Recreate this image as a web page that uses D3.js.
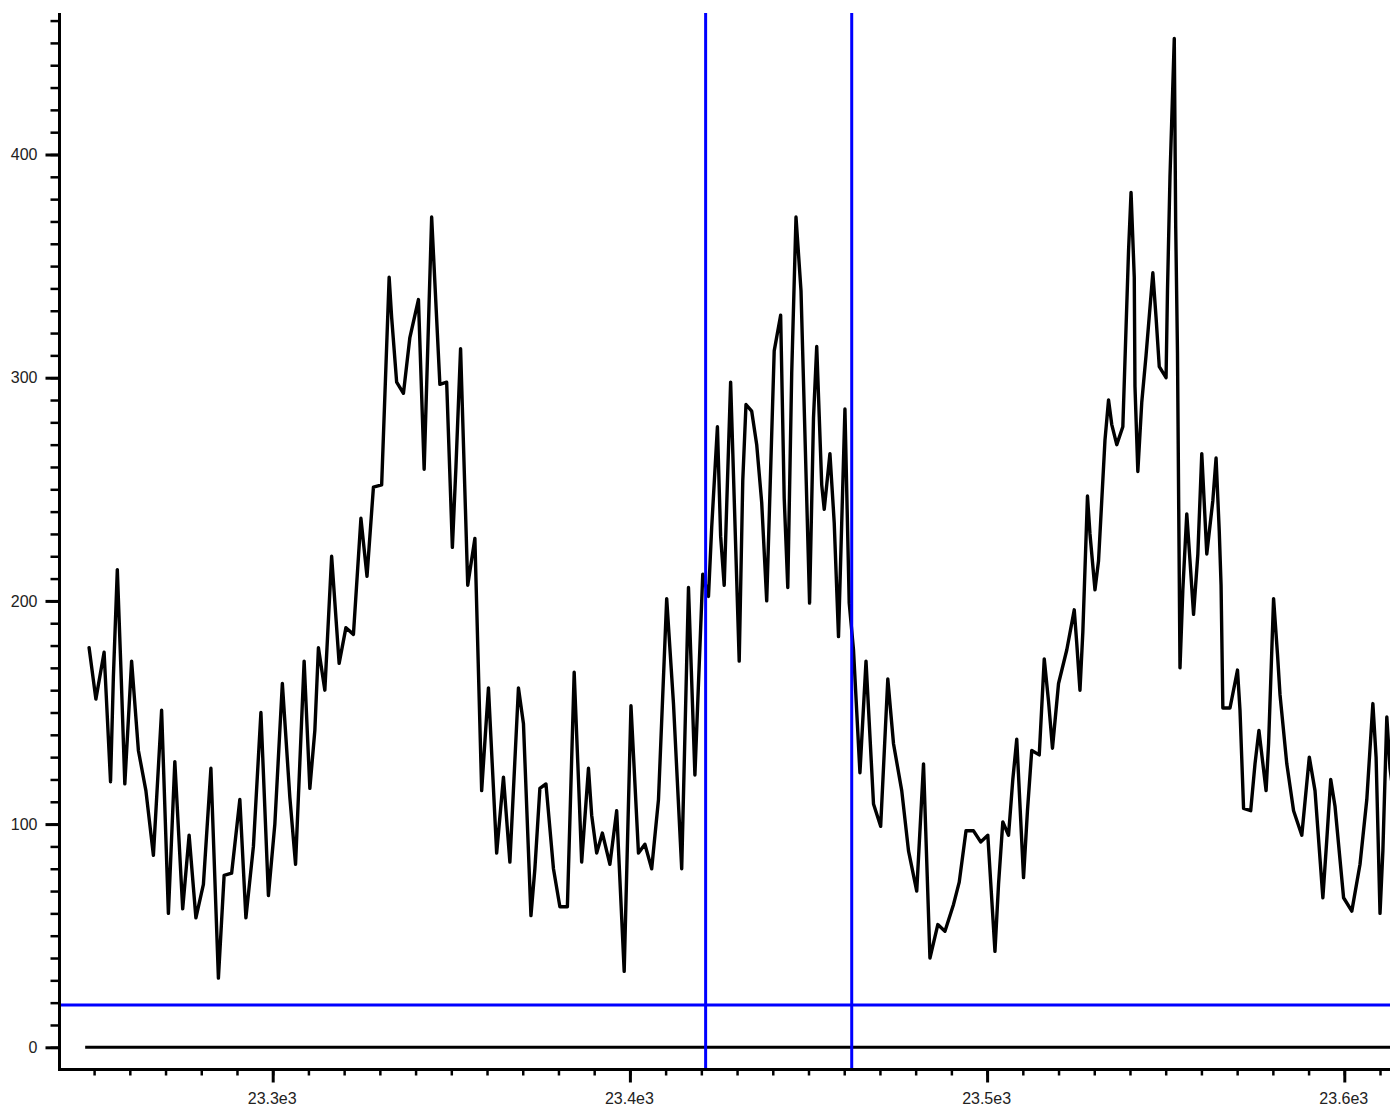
<!DOCTYPE html>
<html>
<head>
<meta charset="utf-8">
<script src="https://cdn.jsdelivr.net/npm/d3@7"></script>
<style>
  html, body { margin: 0; padding: 0; background: #fff; }
  svg { display: block; }
</style>
</head>
<body>
<svg id="chart" width="1390" height="1106"></svg>
<script>
// Signal samples: position (x) and intensity (y)
const xs = [
  23248.6, 23250.5, 23252.8, 23254.6, 23255.4, 23256.5, 23257.5, 23258.6, 23260.5, 23262.4,
  23264.5, 23266.6, 23268.9, 23270.8, 23272.6, 23274.8, 23276.6, 23278.5, 23280.6, 23282.7,
  23284.8, 23286.4, 23288.5, 23290.8, 23292.5, 23294.6, 23296.7, 23298.8, 23300.6, 23302.7,
  23304.8, 23306.4, 23307.4, 23308.8, 23310.4, 23311.8, 23312.8, 23314.6, 23316.5, 23318.6,
  23320.5, 23322.6, 23324.7, 23326.4, 23328.2, 23330.5, 23332.6, 23333.3, 23334.7, 23336.6,
  23338.4, 23340.8, 23342.4, 23344.5, 23346.8, 23348.7, 23350.3, 23351.3, 23352.6, 23354.6,
  23356.6, 23358.5, 23360.4, 23362.7, 23364.6, 23366.4, 23368.8, 23370.2, 23372.3, 23373.4,
  23374.8, 23376.5, 23378.6, 23380.4, 23382.5, 23384.4, 23385.6, 23386.5, 23388.4, 23389.3,
  23390.7, 23392.3, 23394.4, 23396.3, 23398.4, 23400.3, 23402.4, 23404.2, 23406.1, 23408.0,
  23410.3, 23412.2, 23414.5, 23416.4, 23418.2, 23420.4, 23422.0, 23422.9, 23424.5, 23425.4,
  23426.4, 23427.3, 23428.2, 23430.6, 23431.6, 23432.5, 23434.1, 23435.5, 23436.9, 23438.3,
  23440.4, 23442.2, 23443.2, 23444.2, 23445.3, 23446.5, 23447.9, 23450.3, 23451.4, 23452.3,
  23453.7, 23454.4, 23456.0, 23457.2, 23458.4, 23459.3, 23460.2, 23461.4, 23462.6, 23464.4,
  23466.1, 23468.2, 23470.2, 23472.2, 23473.8, 23476.1, 23478.0, 23480.3, 23482.2, 23484.0,
  23486.2, 23488.2, 23490.6, 23492.2, 23494.1, 23496.2, 23498.2, 23500.2, 23502.2, 23503.2,
  23504.4, 23506.0, 23507.2, 23508.3, 23510.2, 23511.3, 23512.5, 23514.6, 23516.0, 23517.2,
  23518.3, 23520.0, 23522.3, 23524.4, 23525.1, 23526.0, 23526.8, 23528.1, 23528.8, 23530.2,
  23531.2, 23533.0, 23534.0, 23534.9, 23536.3, 23538.0, 23539.6, 23540.3, 23541.2, 23541.4,
  23542.2, 23543.3, 23544.5, 23546.4, 23547.3, 23548.2, 23550.1, 23550.5, 23551.2, 23552.4,
  23552.8, 23553.3, 23554.0, 23554.8, 23555.9, 23556.8, 23557.8, 23559.0, 23560.1, 23561.5,
  23563.2, 23564.1, 23565.0, 23565.5, 23566.0, 23568.0, 23570.1, 23570.8, 23571.8, 23573.8,
  23575.0, 23576.1, 23578.1, 23578.8, 23580.2, 23581.3, 23582.0, 23583.9, 23585.8, 23588.1,
  23590.2, 23591.8, 23594.0, 23595.1, 23596.2, 23597.4, 23599.8, 23602.1, 23604.4, 23606.3,
  23608.0, 23608.9, 23610.0, 23610.8, 23611.9, 23612.8, 23614.0
];
const ys = [
  179, 156, 177, 119, 166, 214, 170, 118, 173, 133,
  115, 86, 151, 60, 128, 62, 95, 58, 73, 125,
  31, 77, 78, 111, 58, 90, 150, 68, 100, 163,
  112, 82, 120, 173, 116, 142, 179, 160, 220, 172,
  188, 185, 237, 211, 251, 252, 345, 327, 298, 293,
  318, 335, 259, 372, 297, 298, 224, 260, 313, 207,
  228, 115, 161, 87, 121, 83, 161, 145, 59, 80,
  116, 118, 80, 63, 63, 168, 120, 83, 125, 104,
  87, 96, 82, 106, 34, 153, 87, 91, 80, 111,
  201, 154, 80, 206, 122, 212, 202, 233, 278, 229,
  207, 253, 298, 173, 254, 288, 285, 270, 244, 200,
  312, 328, 246, 206, 302, 372, 339, 199, 282, 314,
  252, 241, 266, 235, 184, 235, 286, 199, 178, 123,
  173, 109, 99, 165, 136, 115, 88, 70, 127, 40,
  55, 52, 64, 74, 97, 97, 92, 95, 43, 73,
  101, 95, 120, 138, 76, 106, 133, 131, 174, 155,
  134, 163, 178, 196, 181, 160, 186, 247, 230, 205,
  218, 272, 290, 279, 270, 278, 357, 383, 345, 296,
  258, 289, 310, 347, 327, 305, 300, 339, 390, 452,
  368, 311, 170, 205, 239, 218, 194, 221, 266, 221,
  245, 264, 231, 207, 152, 152, 169, 151, 107, 106,
  127, 142, 115, 136, 201, 176, 158, 127, 106, 95,
  130, 115, 67, 93, 120, 108, 67, 61, 82, 111,
  154, 130, 60, 88, 148, 125, 110
];

// Axis ticks: minor every 10 units, labelled every 100
const xMinorTicks = d3.range(23250, 23611, 10);
const xMajorTicks = [23300, 23400, 23500, 23600];
const xTickLabels = ["23.3e3", "23.4e3", "23.5e3", "23.6e3"];
const yMinorTicks = d3.range(0, 461, 10);
const yMajorTicks = [0, 100, 200, 300, 400];
const yTickLabels = ["0", "100", "200", "300", "400"];

// Cursor markers
const cursorX = [23421.2, 23462.1];
const thresholdY = 19;
const baselineY = 0;
const baselineStart = 23247.5;

const W = 1390, H = 1106;
const plotLeft = 59.5, plotTop = 13, plotBottom = 1069.5, plotRight = W;
const labelFont = "'Liberation Sans', Arial, sans-serif";

const x = d3.scaleLinear().domain([23300, 23600]).range([272.7, 1344.3]);
const y = d3.scaleLinear().domain([0, 400]).range([1047.3, 154.5]);

const svg = d3.select("#chart");

svg.append("defs").append("clipPath").attr("id", "plot-clip")
  .append("rect")
  .attr("x", plotLeft).attr("y", plotTop)
  .attr("width", plotRight - plotLeft).attr("height", plotBottom - plotTop);

const plot = svg.append("g").attr("clip-path", "url(#plot-clip)");

// zero baseline
plot.append("line")
  .attr("x1", x(baselineStart)).attr("x2", plotRight)
  .attr("y1", y(baselineY)).attr("y2", y(baselineY))
  .attr("stroke", "#000").attr("stroke-width", 3);

// signal trace
const pts = xs.map((v, i) => [v, ys[i]]);
plot.append("path")
  .datum(pts)
  .attr("fill", "none")
  .attr("stroke", "#000")
  .attr("stroke-width", 3.4)
  .attr("stroke-linejoin", "round")
  .attr("stroke-linecap", "round")
  .attr("d", d3.line().x(d => x(d[0])).y(d => y(d[1])));

// threshold and cursor lines
plot.append("line")
  .attr("x1", plotLeft).attr("x2", plotRight)
  .attr("y1", y(thresholdY)).attr("y2", y(thresholdY))
  .attr("stroke", "#0000ff").attr("stroke-width", 3);

plot.selectAll("line.cursor")
  .data(cursorX)
  .enter().append("line")
  .attr("class", "cursor")
  .attr("x1", d => x(d)).attr("x2", d => x(d))
  .attr("y1", plotTop).attr("y2", plotBottom)
  .attr("stroke", "#0000ff").attr("stroke-width", 3);

// x axis: minor ticks
const xMinorAxis = d3.axisBottom(x).tickValues(xMinorTicks).tickSize(6).tickFormat("");
const gxMinor = svg.append("g").attr("transform", `translate(0,${plotBottom})`).call(xMinorAxis);
gxMinor.select(".domain").remove();
gxMinor.selectAll(".tick line").attr("stroke", "#000").attr("stroke-width", 2.5);

// x axis: major ticks and labels
const xMajorAxis = d3.axisBottom(x).tickValues(xMajorTicks).tickSize(13)
  .tickFormat((d, i) => xTickLabels[i]).tickPadding(10);
const gxMajor = svg.append("g").attr("transform", `translate(0,${plotBottom})`).call(xMajorAxis);
gxMajor.attr("font-size", null).attr("font-family", null);
gxMajor.select(".domain").remove();
gxMajor.selectAll(".tick line").attr("stroke", "#000").attr("stroke-width", 3);
gxMajor.selectAll(".tick text")
  .style("font-family", labelFont).style("font-size", "16px")
  .attr("fill", "#222").attr("dx", "-1");

// y axis: minor ticks
const yMinorAxis = d3.axisLeft(y).tickValues(yMinorTicks).tickSize(9).tickFormat("");
const gyMinor = svg.append("g").attr("transform", `translate(${plotLeft},0)`).call(yMinorAxis);
gyMinor.select(".domain").remove();
gyMinor.selectAll(".tick line").attr("stroke", "#000").attr("stroke-width", 2.5);

// y axis: major ticks and labels
const yMajorAxis = d3.axisLeft(y).tickValues(yMajorTicks).tickSize(14)
  .tickFormat((d, i) => yTickLabels[i]).tickPadding(8);
const gyMajor = svg.append("g").attr("transform", `translate(${plotLeft},0)`).call(yMajorAxis);
gyMajor.attr("font-size", null).attr("font-family", null);
gyMajor.select(".domain").remove();
gyMajor.selectAll(".tick line").attr("stroke", "#000").attr("stroke-width", 3);
gyMajor.selectAll(".tick text")
  .style("font-family", labelFont).style("font-size", "16px")
  .attr("fill", "#222");

// axis lines
svg.append("line")
  .attr("x1", plotLeft).attr("x2", plotLeft)
  .attr("y1", plotTop).attr("y2", plotBottom + 1.5)
  .attr("stroke", "#000").attr("stroke-width", 3);
svg.append("line")
  .attr("x1", plotLeft - 1.5).attr("x2", plotRight)
  .attr("y1", plotBottom).attr("y2", plotBottom)
  .attr("stroke", "#000").attr("stroke-width", 3);
</script>
</body>
</html>
